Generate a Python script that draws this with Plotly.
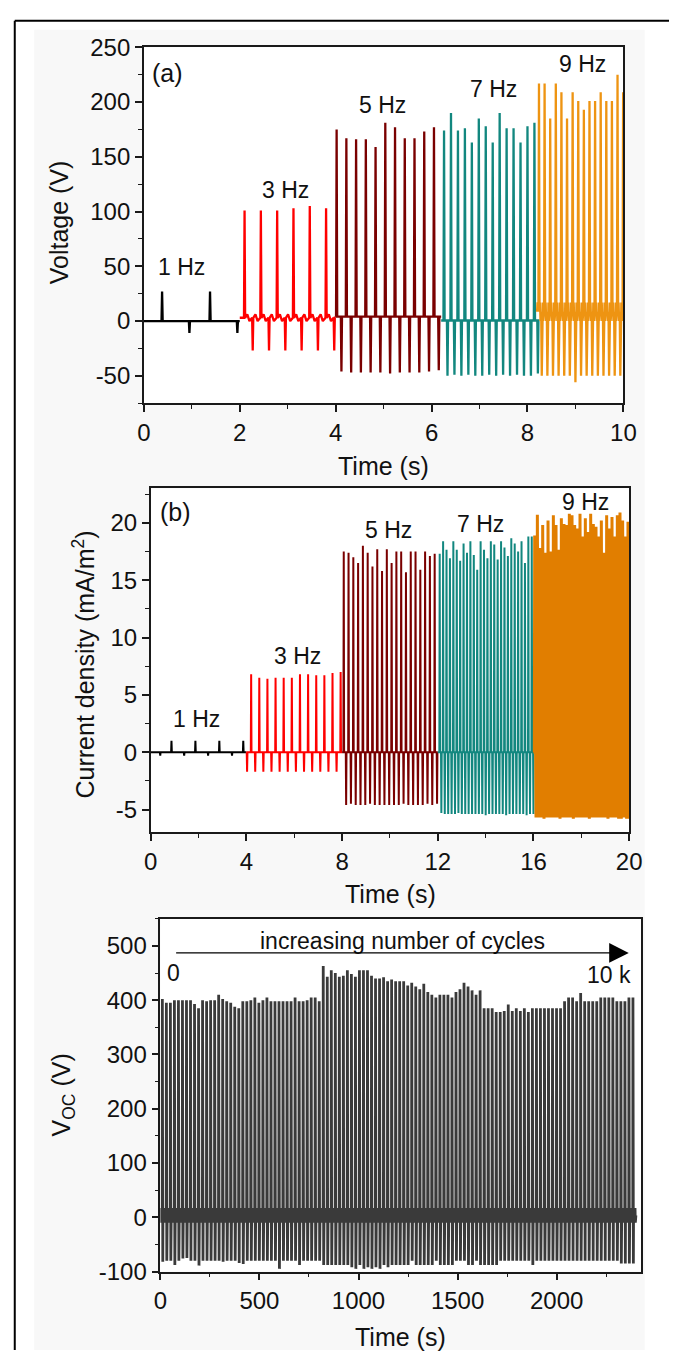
import plotly.graph_objects as go

W, H = 682, 1363

# ---------------- (a) voltage at 1/3/5/7/9 Hz ----------------
A_LABELS = ["1 Hz", "3 Hz", "5 Hz", "7 Hz", "9 Hz"]
A_SPAN = [[0.0, 2.0], [2.0, 4.0], [4.0, 6.2], [6.2, 8.2], [8.2, 10.0]]
A_FIRST = [0.38, 2.10, 4.02, 6.26, 8.24]
A_PERIOD = [1.0, 0.34, 0.203, 0.145, 0.117]
A_SHIFT = [0.57, 0.17, 0.10, 0.072, 0.058]
A_PEAKS = [
    [27, 27],
    [101, 101, 101, 103, 105, 103],
    [175, 167, 166, 166, 159, 181, 177, 167, 167, 173, 177],
    [174, 190, 174, 176, 163, 185, 178, 163, 190, 176, 176, 163, 178, 181],
    [217, 217, 185, 217, 209, 185, 209, 201, 193, 201, 201, 209, 201, 201, 225, 209],
]
A_TROUGHS = [
    [-11, -11],
    [-27, -27, -27, -27, -27, -27],
    [-46, -47, -47, -47, -47, -48, -47, -47, -47, -46, -45],
    [-50, -49, -50, -49, -50, -50, -49, -50, -49, -50, -49, -50, -50, -48],
    [-50, -50, -50, -50, -50, -50, -56, -50, -50, -50, -50, -50, -50, -50, -50, -50],
]
A_BAND = [[0, 0], [0, 6], [0, 8], [-4, 5], [0, 17]]
A_YTICKS = [-50, 0, 50, 100, 150, 200, 250]
A_XTICKS = [0, 2, 4, 6, 8, 10]

# ---------------- (b) current density ----------------
B_SPAN = [[0.0, 4.0], [4.0, 8.0], [8.0, 12.0], [12.0, 16.0], [16.0, 20.0]]
B_FIRST = [0.87, 4.20, 8.07, 12.08, 16.05]
B_PERIOD = [1.0, 0.34, 0.2, 0.1425, 0.1114]
B_SHIFT = [-0.47, -0.17, 0.10, 0.07, 0.055]
B_PEAKS = [
    [1.0, 1.0, 1.0, 1.0],
    [6.8, 6.5, 6.4, 6.5, 6.5, 6.5, 6.8, 6.8, 6.7, 6.7, 6.9, 7.0],
    [17.5, 17.4, 17.0, 16.5, 18.0, 17.4, 16.2, 17.7, 15.8, 17.7,
     16.5, 17.5, 17.5, 15.7, 17.5, 17.5, 15.9, 17.5, 17.1, 17.3],
    [17.3, 18.4, 17.65, 16.9, 18.4, 17.65, 16.7, 18.2, 17.4, 18.4,
     17.2, 15.9, 18.4, 17.65, 16.9, 18.4, 18.1, 16.8, 18.4, 17.85,
     17.1, 18.65, 18.2, 17.5, 18.4, 16.5, 18.8, 18.8],
    [18.9, 20.7, 17.8, 19.8, 17.4, 20.2, 17.5, 20.65, 19.8, 17.65,
     20.4, 19.9, 19.8, 20.8, 20.65, 19.8, 19.5, 20.8, 18.8, 20.4,
     19.2, 20.8, 19.9, 19.65, 18.8, 20.2, 17.4, 20.65, 19.5, 20.5,
     18.8, 20.65, 20.9, 20.2, 18.8, 20.1],
]
B_TROUGHS = [
    [-0.3, -0.3, -0.3, -0.3],
    [-1.7] * 12,
    [-4.6, -4.5, -4.6, -4.6, -4.6, -4.5, -4.6, -4.6, -4.6, -4.6,
     -4.6, -4.6, -4.5, -4.6, -4.6, -4.6, -4.6, -4.5, -4.6, -4.5],
    [-5.3, -5.4, -5.4, -5.4, -5.4, -5.3, -5.4, -5.4, -5.4, -5.4,
     -5.4, -5.4, -5.4, -5.5, -5.4, -5.4, -5.4, -5.4, -5.4, -5.5,
     -5.4, -5.4, -5.4, -5.4, -5.4, -5.5, -5.4, -5.4],
    [-5.7, -5.7, -5.7, -5.8, -5.7, -5.7, -5.7, -5.7, -5.7, -5.8,
     -5.7, -5.7, -5.7, -5.7, -5.8, -5.7, -5.7, -5.7, -5.7, -5.7,
     -5.8, -5.7, -5.7, -5.7, -5.7, -5.7, -5.7, -5.8, -5.7, -5.7,
     -5.7, -5.8, -5.8, -5.7, -5.8, -5.8],
]
B_YTICKS = [-5, 0, 5, 10, 15, 20]
B_XTICKS = [0, 4, 8, 12, 16, 20]

# ---------------- (c) Voc over 10 k cycles ----------------
C_SPAN = [0.0, 2400.0]
C_FIRST = 10.0
C_PERIOD = 20.3
C_PEAKS = [
    402, 395, 395, 400, 400, 400, 400, 400, 393, 385, 400, 398, 400, 400, 410, 402, 398, 395, 388, 385,
    398, 398, 400, 405, 395, 400, 405, 398, 398, 398, 398, 398, 398, 405, 398, 398, 400, 405, 405, 398,
    463, 443, 455, 450, 443, 445, 455, 448, 443, 455,
    455, 455, 445, 440, 440, 442, 435, 438, 435, 435,
    435, 427, 432, 425, 420, 430, 415, 410, 405, 410,
    410, 410, 405, 415, 420, 432, 425, 418, 410, 418,
    385, 385, 385, 378, 378, 380, 392, 380, 385, 380, 385, 378, 385, 385, 385, 385, 385, 385, 385, 385,
    398, 405, 405, 398, 413, 398, 398, 398, 398, 405, 405, 405, 405, 398, 398, 398, 405, 405,
]
C_TROUGHS = [
    -82, -80, -80, -88, -80, -76, -75, -80, -80, -89, -80, -80, -80, -80, -80, -82, -80, -80, -80, -84,
    -86, -80, -80, -80, -80, -80, -80, -80, -80, -95, -80, -80, -80, -80, -88, -80, -80, -80, -80, -80,
    -88, -88, -88, -88, -88, -88, -88, -92, -95, -88,
    -95, -92, -95, -92, -95, -88, -92, -88, -88, -88,
    -88, -88, -80, -88, -88, -88, -88, -88, -80, -88,
    -88, -88, -88, -80, -80, -80, -88, -88, -80, -88,
    -88, -88, -88, -88, -80, -80, -80, -80, -80, -80, -80, -80, -88, -80, -80, -80, -80, -80, -80, -80,
    -80, -80, -80, -80, -80, -80, -80, -80, -80, -80, -80, -80, -80, -80, -85, -85, -85, -85,
]
C_BAND = [-10, 17]
C_YTICKS = [-100, 0, 100, 200, 300, 400, 500]
C_XTICKS = [0, 500, 1000, 1500, 2000]

FONT = "Liberation Sans, Arial, sans-serif"
A_COLORS = ["#000000", "#ff0000", "#7a0000", "#12877f", "#ee9412"]
B_COLORS = ["#000000", "#ff0000", "#7a0000", "#12877f", "#e17e00"]


def pulse_wave(span, first, period, shift, peaks, troughs, band, step, w):
    lo, hi = band
    base = (lo + hi) / 2
    events = [(first + i * period, p) for i, p in enumerate(peaks)]
    events += [(first + i * period + shift, q) for i, q in enumerate(troughs)]
    events.sort()
    xs, ys = [span[0]], [base]

    def fill(a, b):
        if not step or hi <= lo:
            return
        n = int((b - a) / step)
        for k in range(1, n):
            xs.append(a + k * step)
            ys.append(hi if k % 2 else lo)

    cur = span[0]
    for t, v in events:
        fill(cur, t - w)
        xs.extend([t - w, t, t + w])
        ys.extend([base, v, base])
        cur = t + w
    fill(cur, span[1])
    xs.append(span[1])
    ys.append(base)
    return xs, ys


def px_x(p):
    return p / W


def px_y(p):
    return 1 - p / H


def axis(domain, rng, vals, minor_dtick, anchor):
    return dict(
        domain=domain, range=rng, anchor=anchor,
        tickmode="array", tickvals=vals, ticktext=[str(v) for v in vals],
        showline=True, linecolor="#1a1a1a", linewidth=1.5, mirror=True,
        ticks="outside", ticklen=7, tickwidth=1.5, tickcolor="#1a1a1a",
        minor=dict(tickmode="linear", tick0=0, dtick=minor_dtick, ticks="outside",
                   ticklen=4, tickwidth=1.3, tickcolor="#1a1a1a"),
        showgrid=False, zeroline=False,
        tickfont=dict(family=FONT, size=24, color="#111"),
    )


def main() -> None:
    fig = go.Figure()

    a_steps = [None, 0.045, 0.04, 0.03, 0.01]
    for i in range(5):
        xs, ys = pulse_wave(A_SPAN[i], A_FIRST[i], A_PERIOD[i], A_SHIFT[i],
                            A_PEAKS[i], A_TROUGHS[i], A_BAND[i], a_steps[i], 0.012)
        fig.add_trace(go.Scatter(x=xs, y=ys, mode="lines", name=A_LABELS[i],
                                 line=dict(color=A_COLORS[i], width=2.3),
                                 xaxis="x", yaxis="y", showlegend=False))

    b_widths = [2, 2, 2, 2, 3]
    for i in range(5):
        xs, ys = pulse_wave(B_SPAN[i], B_FIRST[i], B_PERIOD[i], B_SHIFT[i],
                            B_PEAKS[i], B_TROUGHS[i], [0, 0], None, 0.015)
        fig.add_trace(go.Scatter(x=xs, y=ys, mode="lines", name=A_LABELS[i],
                                 line=dict(color=B_COLORS[i], width=b_widths[i]),
                                 xaxis="x2", yaxis="y2", showlegend=False))

    xs, ys = pulse_wave(C_SPAN, C_FIRST, C_PERIOD, 2.2, C_PEAKS, C_TROUGHS,
                        C_BAND, 1.5, 0.8)
    fig.add_trace(go.Scatter(x=xs, y=ys, mode="lines", name="Voc",
                             line=dict(color="#3a3a3a", width=2.8),
                             xaxis="x3", yaxis="y3", showlegend=False))

    txt = dict(family=FONT, size=23, color="#111")
    big = dict(family=FONT, size=25, color="#111")
    notes = [
        ("x", "y", 0.5, 227, "(a)", big),
        ("x", "y", 0.79, 49, "1 Hz", txt), ("x", "y", 2.95, 120, "3 Hz", txt),
        ("x", "y", 4.98, 197, "5 Hz", txt), ("x", "y", 7.3, 212, "7 Hz", txt),
        ("x", "y", 9.14, 235, "9 Hz", txt),
        ("x2", "y2", 1.03, 20.9, "(b)", big),
        ("x2", "y2", 1.9, 2.85, "1 Hz", txt), ("x2", "y2", 6.13, 8.43, "3 Hz", txt),
        ("x2", "y2", 9.96, 19.4, "5 Hz", txt), ("x2", "y2", 13.8, 19.9, "7 Hz", txt),
        ("x2", "y2", 18.17, 21.8, "9 Hz", txt),
        ("x3", "y3", 1223, 509, "increasing number of cycles", txt),
        ("x3", "y3", 68, 450, "0", txt),
        ("x3", "y3", 2263, 446, "10 k", txt),
    ]
    for xr, yr, x, y, t, f in notes:
        fig.add_annotation(x=x, y=y, xref=xr, yref=yr, text=t, showarrow=False,
                           font=f, xanchor="center", yanchor="middle")

    fig.add_annotation(x=2364, y=487, ax=72, ay=487, xref="x3", yref="y3",
                       axref="x3", ayref="y3", text="", showarrow=True,
                       arrowhead=2, arrowsize=2.8, arrowwidth=1.4, arrowcolor="#000")

    title = dict(family=FONT, size=25, color="#111")
    titles = [
        (53, 212, "Voltage (V)", -90),
        (388, 461, "Time (s)", 0),
        (79, 664, "Current density (mA/m<sup>2</sup>)", -90),
        (395, 898, "Time (s)", 0),
        (58, 1103, "V<sub>OC</sub> (V)", -90),
        (405, 1350, "Time (s)", 0),
    ]
    for x, y, t, ang in titles:
        fig.add_annotation(x=px_x(x), y=px_y(y), xref="paper", yref="paper", text=t,
                           textangle=ang, showarrow=False, font=title,
                           xanchor="center", yanchor="middle")

    shapes = [
        dict(type="rect", xref="paper", yref="paper", x0=px_x(28), x1=px_x(657),
             y0=0, y1=px_y(16), fillcolor="#f8f8f8", line=dict(width=0), layer="below"),
        dict(type="line", xref="paper", yref="paper", x0=px_x(8), x1=1,
             y0=px_y(7), y1=px_y(7), line=dict(color="#000", width=2)),
        dict(type="line", xref="paper", yref="paper", x0=px_x(8), x1=px_x(8),
             y0=0, y1=px_y(7), line=dict(color="#000", width=2)),
    ]
    for ax in ["", "2", "3"]:
        shapes.append(dict(type="rect", xref=f"x{ax} domain", yref=f"y{ax} domain",
                           x0=0, x1=1, y0=0, y1=1, fillcolor="#ffffff",
                           line=dict(width=0), layer="below"))

    fig.update_layout(
        width=W, height=H,
        margin=dict(l=0, r=0, t=0, b=0),
        paper_bgcolor="#ffffff", plot_bgcolor="#ffffff",
        showlegend=False,
        font=dict(family=FONT, color="#111"),
        shapes=shapes,
        xaxis=axis([px_x(141), px_x(635)], [0, 10], A_XTICKS, 1, "y"),
        yaxis=axis([px_y(397), px_y(34)], [-75, 250], A_YTICKS, 25, "x"),
        xaxis2=axis([px_x(148), px_x(641)], [0, 20], B_XTICKS, 2, "y2"),
        yaxis2=axis([px_y(835), px_y(484)], [-7, 23], B_YTICKS, 2.5, "x2"),
        xaxis3=axis([px_x(158), px_x(653)], [0, 2425], C_XTICKS, 250, "y3"),
        yaxis3=axis([px_y(1283), px_y(923)], [-100, 550], C_YTICKS, 50, "x3"),
    )

    fig.write_html("out.html", config={"displayModeBar": False},
                   post_script="document.body.style.margin='0px';")


if __name__ == "__main__":
    main()
